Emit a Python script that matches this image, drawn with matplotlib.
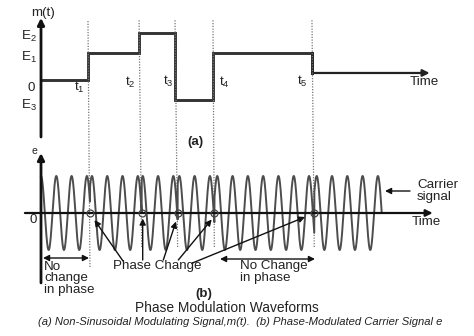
import numpy as np
import matplotlib
matplotlib.use("Agg")
import matplotlib.pyplot as plt

plt.rcParams['font.family'] = ['Liberation Sans', 'DejaVu Sans']
plt.rcParams['mathtext.fontset'] = 'custom'
plt.rcParams['mathtext.rm'] = 'Liberation Sans'
plt.rcParams['mathtext.it'] = 'Liberation Sans:italic'

# ---------------- data (time measured in carrier periods) ----------------
switch_times_a = [3.07, 6.41, 8.76, 11.24, 17.71]   # t1..t5 as drawn on panel (a)
switch_times_b = [3.20, 6.58, 8.93, 11.33, 17.86]   # same instants as drawn on panel (b)
switch_labels = [r"t$_\mathregular{1}$", r"t$_\mathregular{2}$", r"t$_\mathregular{3}$",
                 r"t$_\mathregular{4}$", r"t$_\mathregular{5}$"]
m_levels = [0.0, 1.0, 1.74, -0.74, 1.0, 0.26]       # m(t) in units of E1
level_labels = [r"E$_\mathregular{2}$", r"E$_\mathregular{1}$", "0", r"E$_\mathregular{3}$"]
level_values = [1.74, 1.0, 0.0, -0.74]
time_axis_end = 25.4
carrier_peak_times = [0.0, 3.33, 6.65, 9.04, 11.52, 18.02]  # carrier restarts (phase) per segment
carrier_end = 22.27

# ---------------- figure ----------------
W, H = 474, 336
fig = plt.figure(figsize=(W / 100, H / 100), dpi=100)
PX0, SX = 41.0, 15.3
xlim = (-PX0 / SX, (W - PX0) / SX)

# panel (a): y = (80 - py)/27, spans py 0..150
ax1 = fig.add_axes([0, 1 - 150 / H, 1, 150 / H])
ax1.set_xlim(*xlim)
ax1.set_ylim((80 - 150) / 27, 80 / 27)
ax1.axis('off')

# panel (b): y = (213 - py)/37, spans py 150..336
ax2 = fig.add_axes([0, 0, 1, 186 / H])
ax2.set_xlim(*xlim)
ax2.set_ylim((213 - 336) / 37, (213 - 150) / 37)
ax2.axis('off')

# ---- panel (a) ----
xs = [0] + switch_times_a
ys = m_levels
ax1.plot(xs, ys, drawstyle='steps-post', color='#333333', lw=2.1, solid_joinstyle='miter')
ax1.plot([switch_times_a[-1], switch_times_a[-1]], [m_levels[-2], m_levels[-1]], color='#222222', lw=1.8)
ax1.annotate('', xy=(time_axis_end, m_levels[-1]), xytext=(switch_times_a[-1], m_levels[-1]),
             arrowprops=dict(arrowstyle='-|>', lw=1.6, color='#222222', mutation_scale=10,
                             shrinkA=0, shrinkB=0))
ax1.annotate('', xy=(0, 2.3), xytext=(0, -2.11),
             arrowprops=dict(arrowstyle='-|>', lw=2, color='#111111', mutation_scale=10,
                             shrinkA=0, shrinkB=0))

# ---- guide lines (slightly slanted in the scan) ----
guide_bottom_py = [267, 247, 247, 247, 247]
for ta, tb, pb in zip(switch_times_a, switch_times_b, guide_bottom_py):
    ax2.plot([tb, ta], [(213 - pb) / 37, (213 - 20) / 37], ls=(0, (1, 1.2)),
             color='#777777', lw=0.9, clip_on=False, zorder=1)

# ---- panel (b) ----
t = np.linspace(0, carrier_end, 6000)
seg = np.searchsorted(switch_times_b, t, side='right')
ref = np.array(carrier_peak_times)[seg]
e = np.cos(2 * np.pi * (t - ref))
ax2.plot(t, e, color='#4d4d4d', lw=1.4, zorder=2)

ax2.annotate('', xy=(25.6, 0), xytext=(-1.05, 0),
             arrowprops=dict(arrowstyle='-|>', lw=1.6, color='#111111', mutation_scale=10,
                             shrinkA=0, shrinkB=0), zorder=3)
ax2.annotate('', xy=(0, 1.62), xytext=(0, -1.89),
             arrowprops=dict(arrowstyle='-|>', lw=2, color='#111111', mutation_scale=10,
                             shrinkA=0, shrinkB=0), zorder=3)
ax2.plot(switch_times_b, [0] * len(switch_times_b), 'o', ms=5, mfc='none',
         mec='#444444', mew=0.9, zorder=4)


def txt(x, y, s, **kw):
    kw.setdefault('ha', 'center')
    kw.setdefault('va', 'center')
    kw.setdefault('fontsize', 9.6)
    kw.setdefault('color', '#222222')
    fig.text(x / W, 1 - y / H, s, **kw)


def arrow(x1, y1, x2, y2, style='-|>', lw=1.0):
    fig.add_artist(matplotlib.patches.FancyArrowPatch(
        (x1 / W, 1 - y1 / H), (x2 / W, 1 - y2 / H), transform=fig.transFigure,
        arrowstyle=style, mutation_scale=9, lw=lw, color='#111111',
        shrinkA=0, shrinkB=0))


# texts panel (a)
txt(43, 13, "m(t)")
for lab, py in zip(level_labels, [36, 57, 88, 105]):
    txt(29 if lab != "0" else 31, py, lab)
for lab, (px, py) in zip(switch_labels, [(79, 87), (130, 82), (168, 81), (224, 82), (302, 81)]):
    txt(px, py, lab)
txt(424, 82, "Time")
txt(195, 142, "(a)", fontweight='bold')

# texts panel (b)
txt(34, 151, "e", fontsize=7.5)
txt(33, 220, "0")
txt(426, 222, "Time")
txt(417, 185, "Carrier", ha='left')
txt(417, 197, "signal", ha='left')
arrow(410, 191, 385, 191)

txt(44, 270.5, "No", ha='left', va='baseline')
txt(44, 281.5, "change", ha='left', va='baseline')
txt(44, 293, "in phase", ha='left', va='baseline')
arrow(43, 258, 89, 258, style='<|-|>')

txt(157, 269.5, "Phase Change", va='baseline')
arrow(123, 261, 94.5, 220)
arrow(142.7, 260, 142.7, 218.5)
arrow(163.3, 260, 176, 221.5)
arrow(178.3, 260, 211.7, 219.5)
arrow(191.7, 263.3, 305, 217)

txt(240, 269, "No Change", ha='left', va='baseline')
txt(240, 281, "in phase", ha='left', va='baseline')
arrow(220, 259, 315, 259, style='<|-|>')

txt(204, 294, "(b)", fontweight='bold')
txt(227, 308, "Phase Modulation Waveforms", fontsize=9.9)
txt(240, 322, "(a) Non-Sinusoidal Modulating Signal,m(t).  (b) Phase-Modulated Carrier Signal e",
    fontsize=8.1, style='italic')

fig.savefig("out.png", dpi=100)
